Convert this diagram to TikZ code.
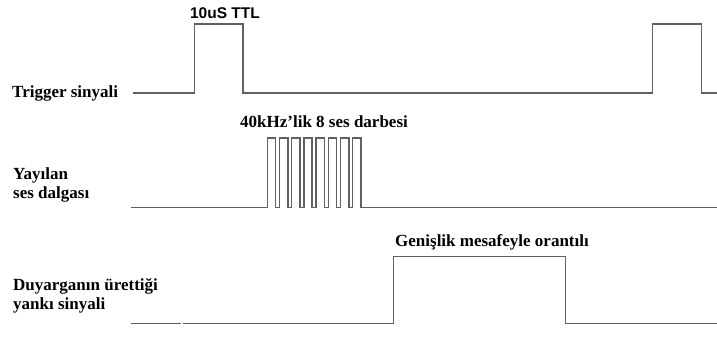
\documentclass[tikz,border=0pt]{standalone}
\usepackage{fontspec}
% no TeX ligature mapping, so the apostrophe stays straight
\setmainfont{Liberation Serif}[Ligatures=ResetAll]
\newfontfamily\ttlfont{Liberation Sans}
\begin{document}
\begin{tikzpicture}[x=1pt,y=-1pt,
  sig/.style={draw=black!62, line width=1.5pt, line join=miter},
  lbl/.style={inner sep=0pt, anchor=base west, font=\fontsize{17}{19}\selectfont\bfseries, align=left},
  note/.style={inner sep=0pt, anchor=base west, font=\fontsize{17}{19}\selectfont\bfseries},
  ttl/.style={inner sep=0pt, anchor=base, font=\ttlfont\fontsize{15.5}{17}\selectfont\bfseries}]
\useasboundingbox (0,0) rectangle (717,338);
\fill[white] (0,0) rectangle (717,338);

% trigger signal: two 10 us pulses
\draw[sig] (133,93) -- (194.5,93) -- (194.5,24) -- (243,24) -- (243,93)
  -- (652.7,93) -- (652.7,24) -- (701.7,24) -- (701.7,93) -- (717,93);
\node[lbl] (trig) at (12,97) {Trigger sinyali};
\node[ttl] (ttl) at (225,18.3) {10uS TTL};

% emitted burst: eight 40 kHz cycles
\draw[sig] (131,207.5) -- (267.3,207.5)
  \foreach \k in {0,...,7} {
    -- ({267.3+12.2*\k},138) -- ({267.3+12.2*\k+8.3},138)
    -- ({267.3+12.2*\k+8.3},207.5) -- ({267.3+12.2*(\k+1)},207.5)
  } -- (717,207.5);
\node[lbl] (burst) at (13,198.3) {Yayılan\\[-0.4pt]ses dalgası};
\node[note] (burstnote) at (240,127) {40kHz'lik 8 ses darbesi};

% echo output: width proportional to distance
\draw[sig] (131,323.5) -- (181,323.5);
\draw[sig] (183,323.5) -- (393.3,323.5) -- (393.3,256.5) -- (565.7,256.5)
  -- (565.7,323.5) -- (717,323.5);
\node[lbl] (echo) at (13,309.3) {Duyarganın ürettiği\\yankı sinyali};
\node[note] (echonote) at (395,246) {Genişlik mesafeyle orantılı};
\end{tikzpicture}
\end{document}
